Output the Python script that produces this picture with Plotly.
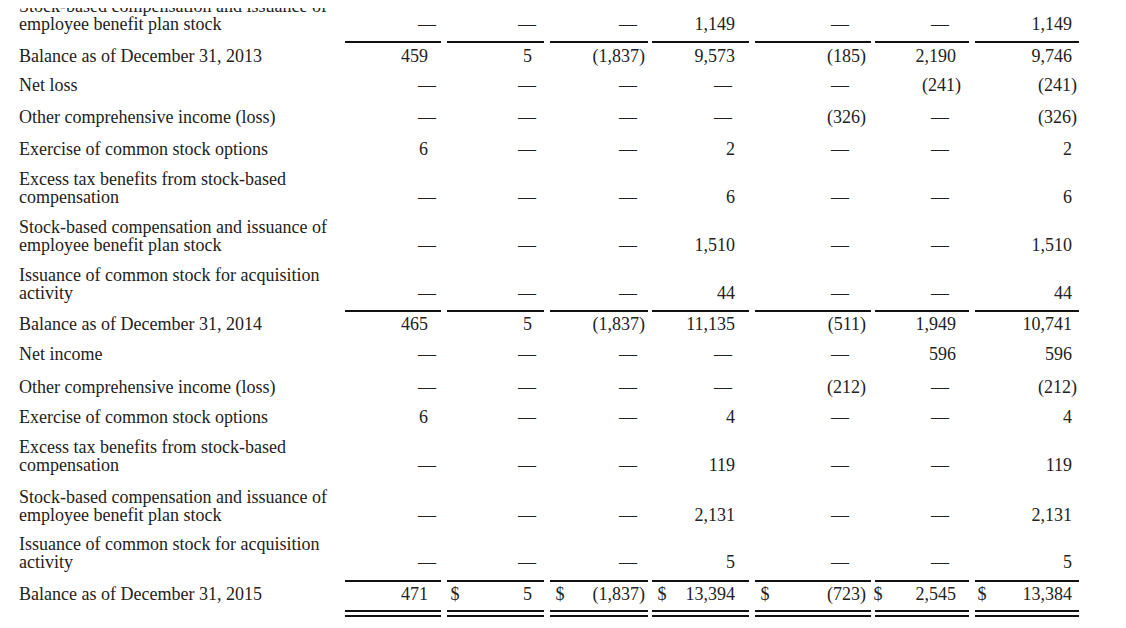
import plotly.graph_objects as go

labels = [
    "Stock-based compensation and issuance of\nemployee benefit plan stock",
    "Balance as of December 31, 2013",
    "Net loss",
    "Other comprehensive income (loss)",
    "Exercise of common stock options",
    "Excess tax benefits from stock-based\ncompensation",
    "Stock-based compensation and issuance of\nemployee benefit plan stock",
    "Issuance of common stock for acquisition\nactivity",
    "Balance as of December 31, 2014",
    "Net income",
    "Other comprehensive income (loss)",
    "Exercise of common stock options",
    "Excess tax benefits from stock-based\ncompensation",
    "Stock-based compensation and issuance of\nemployee benefit plan stock",
    "Issuance of common stock for acquisition\nactivity",
    "Balance as of December 31, 2015",
]
D = None
col1 = [D, "459", D, D, "6", D, D, D, "465", D, D, "6", D, D, D, "471"]
col2 = [D, "5", D, D, D, D, D, D, "5", D, D, D, D, D, D, "5"]
col3 = [D, "(1,837)", D, D, D, D, D, D, "(1,837)", D, D, D, D, D, D, "(1,837)"]
col4 = ["1,149", "9,573", D, D, "2", "6", "1,510", "44", "11,135", D, D, "4", "119", "2,131", "5", "13,394"]
col5 = [D, "(185)", D, "(326)", D, D, D, D, "(511)", D, "(212)", D, D, D, D, "(723)"]
col6 = [D, "2,190", "(241)", D, D, D, D, D, "1,949", "596", D, D, D, D, D, "2,545"]
col7 = ["1,149", "9,746", "(241)", "(326)", "2", "6", "1,510", "44", "10,741", "596", "(212)", "4", "119", "2,131", "5", "13,384"]
columns = [col1, col2, col3, col4, col5, col6, col7]

# layout geometry (pixel space of the reference)
row_y = [25, 57, 86, 118, 150, 198, 246, 294, 325, 355, 388, 418, 466, 516, 563, 595]
right_x = [433, 537, 645, 740, 866, 961, 1077]
dash_x = [427, 527, 628, 723, 840, 940, 1050]
seg = [(345, 441), (447, 544), (550, 648), (652, 749), (755, 871), (875, 969), (975, 1079)]
dollar_x = [455, 560, 662, 765, 878, 982]
FONT = dict(family="Liberation Serif", size=18, color="#222")
OFF = 8  # page body margin

fig = go.Figure()
lx, ly, lt = [], [], []
for lab, y in zip(labels, row_y):
    parts = lab.split("\n")
    for i, p in enumerate(parts):
        lx.append(19); ly.append(y - 18 * (len(parts) - 1 - i)); lt.append(p)
fig.add_trace(go.Scatter(x=lx, y=ly, text=lt, mode="text", textposition="middle right", textfont=FONT, hoverinfo="skip"))

for c, vals in enumerate(columns):
    nx, ny, nt, dx, dy = [], [], [], [], []
    for v, y in zip(vals, row_y):
        if v is None:
            dx.append(dash_x[c]); dy.append(y)
        else:
            nx.append(right_x[c] + (0 if v.endswith(")") else -5)); ny.append(y); nt.append(v)
    fig.add_trace(go.Scatter(x=nx, y=ny, text=nt, mode="text", textposition="middle left", textfont=FONT, hoverinfo="skip"))
    fig.add_trace(go.Scatter(x=dx, y=dy, text=["—"] * len(dx), mode="text", textposition="middle center", textfont=FONT, hoverinfo="skip"))

fig.add_trace(go.Scatter(x=dollar_x, y=[row_y[-1]] * len(dollar_x), text=["$"] * len(dollar_x), mode="text",
                         textposition="middle center", textfont=FONT, hoverinfo="skip"))

for y in [42, 311, 581, 611, 616]:
    for a, b in seg:
        fig.add_shape(type="line", x0=a, x1=b, y0=y, y1=y, line=dict(color="#111", width=2))

fig.update_layout(width=1126, height=628, margin=dict(l=0, r=0, t=0, b=0), showlegend=False,
                  paper_bgcolor="white", plot_bgcolor="white",
                  xaxis=dict(range=[OFF, 1126 + OFF], visible=False, fixedrange=True),
                  yaxis=dict(range=[628 + OFF, OFF], visible=False, fixedrange=True))
fig.write_html("out.html", config={"displayModeBar": False})
